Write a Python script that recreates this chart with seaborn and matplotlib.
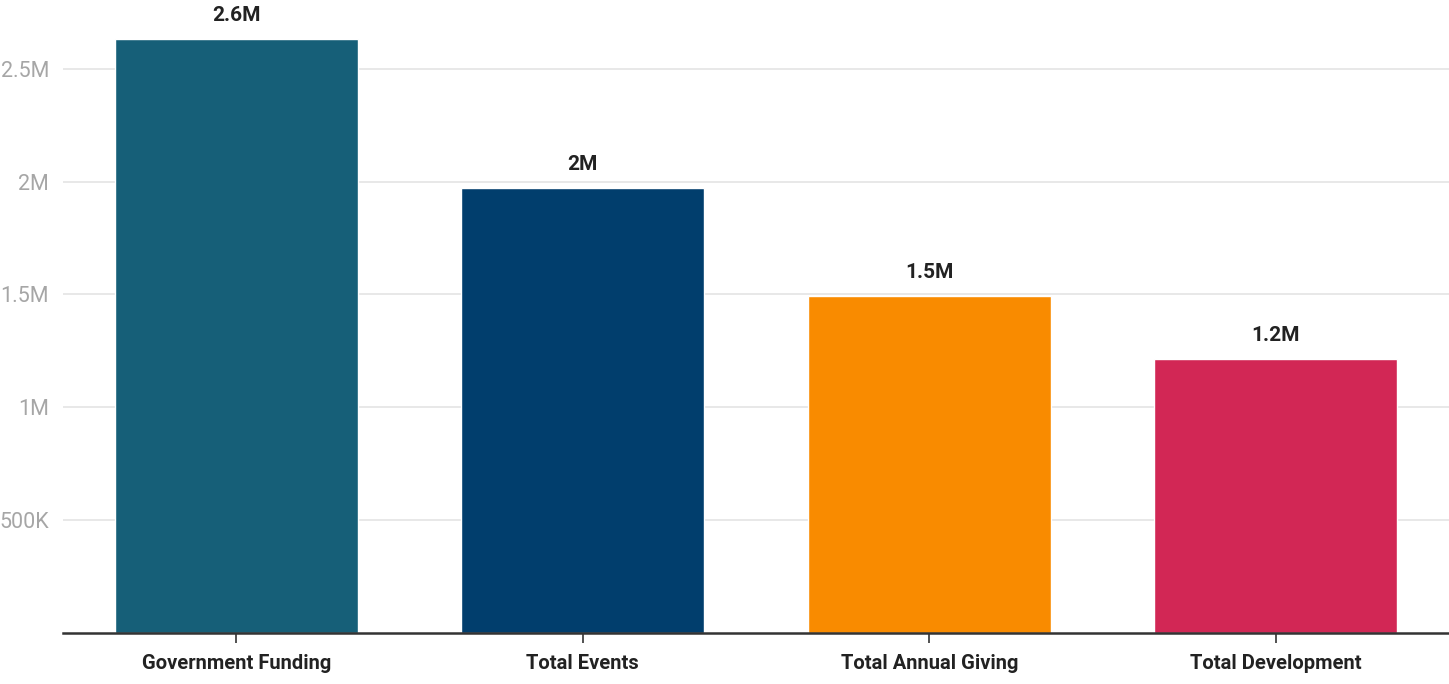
import matplotlib
matplotlib.use("Agg")
import matplotlib.pyplot as plt
import seaborn as sns
import pandas as pd

categories = ["Government Funding", "Total Events", "Total Annual Giving", "Total Development"]
values = [2630000, 1970000, 1495000, 1215000]
value_labels = ["2.6M", "2M", "1.5M", "1.2M"]
colors = ["#165f78", "#013e6d", "#f98b00", "#d22755"]
ytick_values = [500000, 1000000, 1500000, 2000000, 2500000]
ytick_labels = ["500K", "1M", "1.5M", "2M", "2.5M"]

sns.set_theme(style="white")
plt.rcParams["font.family"] = ["Roboto", "DejaVu Sans"]

df = pd.DataFrame({"category": categories, "value": values})

fig = plt.figure(figsize=(14.49, 6.84), dpi=100)
ax = fig.add_axes([63 / 1449, 51 / 684, 1 - 63 / 1449, 632 / 684])

sns.barplot(data=df, x="category", y="value", hue="category", palette=colors,
            width=0.7, legend=False, ax=ax, saturation=1)

ax.set_xlim(-0.5, 3.5)
ax.set_ylim(0, 2800000)
ax.set_yticks(ytick_values)
ax.set_yticklabels(ytick_labels, color="#a6a6a6", fontsize=15.5)
ax.yaxis.grid(True, color="#e6e6e6", linewidth=1.3)
ax.set_axisbelow(True)
ax.tick_params(axis="y", length=0, pad=10)
ax.tick_params(axis="x", length=7, width=1.2, color="#333333", bottom=True, pad=8)
for lab in ax.get_xticklabels():
    lab.set_fontweight("bold")
    lab.set_fontsize(14.5)
    lab.set_color("#222222")
ax.set_xlabel("")
ax.set_ylabel("")
for side in ["top", "right", "left"]:
    ax.spines[side].set_visible(False)
ax.spines["bottom"].set_color("#333333")
ax.spines["bottom"].set_linewidth(1.8)

for i, (v, t) in enumerate(zip(values, value_labels)):
    ax.annotate(t, xy=(i, v), xytext=(0, 10), textcoords="offset points",
                ha="center", va="bottom", fontsize=15, fontweight="bold", color="#222222")

fig.savefig("out.png", dpi=100)
